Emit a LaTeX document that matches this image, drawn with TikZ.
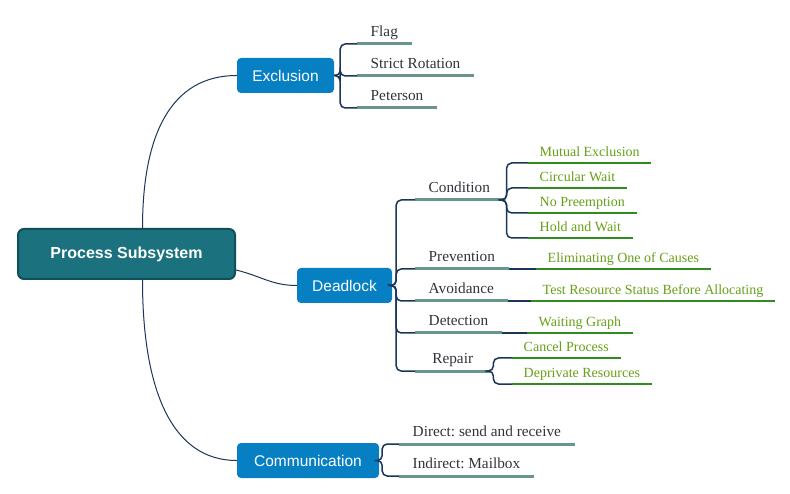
\documentclass[tikz,border=0pt]{standalone}
\usepackage{fontspec}
\setmainfont{Liberation Serif}
\setsansfont{Liberation Sans}
\usepackage{tikz}
\usepackage{xcolor}
\definecolor{rootteal}{RGB}{27,113,125}
\definecolor{rootedge}{RGB}{16,80,90}
\definecolor{topicblue}{RGB}{6,128,194}
\definecolor{navy}{RGB}{26,54,88}
\definecolor{sage}{RGB}{104,150,140}
\definecolor{leafgreen}{RGB}{102,160,22}
\definecolor{linegreen}{RGB}{48,140,30}
\definecolor{inkgray}{RGB}{50,50,58}
\frenchspacing

\begin{document}
\begin{tikzpicture}[x=1pt, y=-1pt,
        root/.style={rectangle, rounded corners=6pt, draw=rootedge, line width=2pt, fill=rootteal, text=white, minimum width=217pt, minimum height=50pt, font=\sffamily\bfseries\fontsize{16}{19}\selectfont},
        topic/.style={rectangle, rounded corners=4pt, fill=topicblue, text=white, minimum height=35pt, inner sep=0pt, font=\sffamily\fontsize{15.5}{18}\selectfont},
        txt/.style={anchor=south west, text height=11pt, text depth=3pt},
        item/.style={txt, inner xsep=13.5pt, inner ysep=4.5pt, text=inkgray, font=\fontsize{15.3}{18}\selectfont, append after command={(\tikzlastnode.south west) edge[sage, line width=3pt] (\tikzlastnode.south east)}},
        cause/.style={txt, inner xsep=11.5pt, inner ysep=3pt, text=leafgreen, font=\fontsize{14}{17}\selectfont, append after command={(\tikzlastnode.south west) edge[linegreen, line width=1.3pt] (\tikzlastnode.south east)}},
        branch/.style={navy, line width=1pt},
        fork/.style={navy, line width=1.5pt, rounded corners=5pt}
    ]
    \useasboundingbox (0,0) rectangle (790,494);
    \node[root] (root) at (126.5,254) {Process Subsystem};
    \node[topic, minimum width=97pt] (excl) at (285.5,75.5) {Exclusion};
    \node[topic, minimum width=95pt] (dead) at (344.5,285.5) {Deadlock};
    \node[topic, minimum width=142pt] (comm) at (308,460.5) {Communication};

    \draw[branch] ([xshift=16pt]root.north) .. controls +(0,-95) and +(-65,0) .. (excl.west);
    \draw[branch] ([yshift=-16pt]root.east) .. controls +(25,6) and +(-25,0) .. (dead.west);
    \draw[branch] ([xshift=16pt]root.south) .. controls +(0,110) and +(-65,0) .. (comm.west);

    \node[item] (flag) at (357,44) {Flag};
    \node[item] (strict) at (357,76) {Strict Rotation};
    \node[item] (peterson) at (357,108) {Peterson};
    \foreach \n in {flag,strict,peterson}
        \draw[fork] (excl.east) -- ++(6,0) |- (\n.south west);

    \node[item] (cond) at (415,200) {Condition};
    \node[item] (prev) at (415,269) {Prevention};
    \node[item] (avoid) at (415,301) {Avoidance};
    \node[item] (detect) at (415,333) {Detection};
    \node[item, minimum width=75pt] (repair) at (415,371) {Repair};
    \foreach \n in {cond,prev,avoid,detect,repair}
        \draw[fork] (dead.east) -- ++(4,0) |- (\n.south west);

    \node[cause] (mutual) at (528,163) {Mutual Exclusion};
    \node[cause] (circular) at (528,188) {Circular Wait};
    \node[cause] (nopre) at (528,213) {No Preemption};
    \node[cause] (hold) at (528,238) {Hold and Wait};
    \foreach \n in {mutual,circular,nopre,hold}
        \draw[fork] (cond.south east) -- ++(3,0) |- (\n.south west);

    \node[cause] (elim) at (536,269) {Eliminating One of Causes};
    \node[cause] (test) at (531,301) {Test Resource Status Before Allocating};
    \node[cause] (graph) at (527,333) {Waiting Graph};
    \draw[fork] (prev.south east) -- (elim.south west);
    \draw[fork] (avoid.south east) -- (test.south west);
    \draw[fork] (detect.south east) -- (graph.south west);

    \node[cause] (cancel) at (512,358) {Cancel Process};
    \node[cause] (depriv) at (512,384) {Deprivate Resources};
    \foreach \n in {cancel,depriv}
        \draw[fork] (repair.south east) -- ++(3,0) |- (\n.south west);

    \node[item] (direct) at (399,444) {Direct: send and receive};
    \node[item] (indirect) at (399,476) {Indirect: Mailbox};
    \foreach \n in {direct,indirect}
        \draw[fork] (comm.east) -- ++(3,0) |- (\n.south west);
\end{tikzpicture}
\end{document}
